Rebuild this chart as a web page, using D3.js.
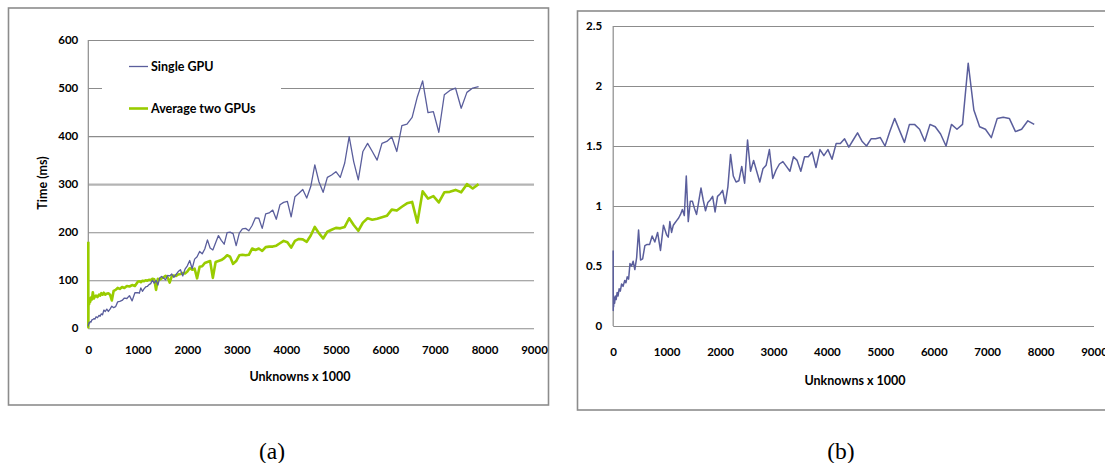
<!DOCTYPE html>
<html>
<head>
<meta charset="utf-8">
<script src="https://cdn.jsdelivr.net/npm/d3@7"></script>
<style>
body { margin: 0; background: #fff; }
svg { display: block; font-family: Lato, "Open Sans", sans-serif; }
</style>
</head>
<body>
<div id="chart"></div>
<script>
// unknowns x 1000 (n^3 grids, denser points thinned out below 1000)
const unknowns = [0, 1, 3, 8, 16, 27, 39, 55, 74, 91, 111, 133, 157, 185, 216, 238, 262, 288, 314, 343, 373, 405, 439, 475, 512, 551, 593, 636, 682, 729, 779, 831, 885, 941,
  1000, 1030, 1061, 1093, 1125, 1158, 1191, 1225, 1260, 1295, 1331, 1368, 1405, 1443, 1482, 1521, 1561, 1602, 1643, 1685, 1728, 1772, 1816, 1861, 1907, 1953,
  2000, 2048, 2097, 2147, 2197, 2248, 2300, 2352, 2406, 2460, 2515, 2571, 2628, 2686, 2744, 2803, 2863, 2924, 2986, 3049, 3112, 3177, 3242, 3308, 3375, 3443, 3512, 3582, 3652, 3724, 3796,
  3870, 3944, 4020, 4096, 4173, 4252, 4331, 4411, 4492, 4574, 4657, 4742, 4827, 4913, 5000, 5088, 5178, 5268, 5359, 5452, 5545, 5640, 5735, 5832, 5930, 6028, 6128, 6230, 6332, 6435, 6539, 6645, 6751, 6859, 6968, 7078, 7189, 7301, 7415, 7530, 7645, 7762, 7881];

// time (ms)
const singleGpu = [4, 5, 8, 8, 12, 11, 14, 13, 18, 18, 20, 19, 24, 22, 27, 25, 30, 28, 38, 35, 40, 35, 40, 46, 43, 45, 55, 56, 58, 63, 62, 68, 57, 74,
  74, 73, 84, 77, 82, 86, 87, 91, 93, 100, 94, 100, 90, 105, 108, 104, 101, 110, 109, 113, 106, 112, 118, 122, 109, 123,
  130, 141, 124, 144, 149, 160, 155, 165, 184, 167, 163, 178, 193, 183, 175, 199, 200, 197, 172, 198, 207, 208, 203, 214, 230, 229, 208, 238, 240, 246, 227,
  257, 262, 264, 232, 274, 281, 289, 271, 295, 340, 305, 283, 314, 319, 326, 314, 344, 399, 347, 309, 368, 385, 368, 350, 385, 389, 398, 368, 422, 425, 439, 482, 515, 449, 451, 408, 486, 495, 500, 458, 491, 500, 503];

const twoGpuAvg = [180, 2, 45, 58, 50, 62, 55, 64, 60, 75, 62, 66, 68, 65, 70, 68, 73, 70, 74, 70, 72, 73, 70, 58, 78, 80, 84, 82, 86, 84, 88, 87, 90, 88,
  97, 98, 96, 99, 98, 100, 99, 101, 100, 103, 102, 80, 103, 101, 104, 106, 109, 106, 95, 108, 110, 109, 112, 113, 115, 114,
  118, 125, 122, 124, 104, 128, 129, 136, 138, 140, 105, 138, 140, 142, 146, 152, 149, 134, 140, 152, 153, 152, 153, 166, 163, 166, 161, 169, 170, 170, 172,
  177, 182, 179, 168, 182, 186, 185, 180, 193, 211, 198, 187, 201, 205, 209, 208, 211, 229, 215, 203, 220, 229, 226, 228, 231, 234, 247, 245, 253, 260, 263, 220, 285, 270, 275, 262, 283, 284, 288, 283, 300, 291, 300];

// panel (b)
const speedup = [0.63, 0.13, 0.22, 0.16, 0.24, 0.19, 0.25, 0.22, 0.28, 0.25, 0.31, 0.29, 0.35, 0.33, 0.38, 0.36, 0.41, 0.39, 0.52, 0.50, 0.54, 0.47, 0.57, 0.80, 0.55, 0.56, 0.67, 0.68, 0.68, 0.75, 0.70, 0.78, 0.63, 0.84,
  0.76, 0.74, 0.87, 0.78, 0.84, 0.86, 0.88, 0.90, 0.93, 0.97, 0.92, 1.25, 0.87, 1.04, 1.04, 0.98, 0.93, 1.04, 1.15, 1.05, 0.96, 1.03, 1.05, 1.08, 0.95, 1.08,
  1.10, 1.13, 1.02, 1.16, 1.43, 1.25, 1.20, 1.21, 1.33, 1.19, 1.55, 1.29, 1.38, 1.29, 1.20, 1.31, 1.34, 1.47, 1.23, 1.30, 1.35, 1.37, 1.33, 1.29, 1.41, 1.38, 1.29, 1.41, 1.41, 1.45, 1.32,
  1.47, 1.42, 1.47, 1.39, 1.52, 1.52, 1.56, 1.49, 1.55, 1.61, 1.54, 1.50, 1.56, 1.56, 1.57, 1.50, 1.62, 1.73, 1.63, 1.53, 1.68, 1.68, 1.64, 1.54, 1.68, 1.66, 1.60, 1.50, 1.68, 1.64, 1.68, 2.19, 1.80, 1.66, 1.64, 1.57, 1.73, 1.74, 1.73, 1.62, 1.64, 1.71, 1.68];

const xTicks = [0, 1000, 2000, 3000, 4000, 5000, 6000, 7000, 8000, 9000];
const timeTicks = [0, 100, 200, 300, 400, 500, 600];
const speedupTicks = [0, 0.5, 1, 1.5, 2, 2.5];
const seriesNames = ["Single GPU", "Average two GPUs"];

const width = 1105;
const height = 463;
const gridColour = "#8c8c8c";
const blue = "#5a5e9c";
const green = "#99cc00";

const svg = d3.select("#chart").append("svg")
  .attr("width", width)
  .attr("height", height)
  .attr("viewBox", [0, 0, width, height]);

function panel(cfg) {
  const x = d3.scaleLinear().domain([0, 9000]).range([cfg.left, cfg.right]);
  const y = d3.scaleLinear().domain([0, d3.max(cfg.yTicks)]).range([cfg.bottom, cfg.top]);

  // outer frame
  svg.append("rect")
    .attr("x", cfg.frame[0]).attr("y", cfg.frame[1])
    .attr("width", cfg.frame[2] - cfg.frame[0]).attr("height", cfg.frame[3] - cfg.frame[1])
    .attr("fill", "none").attr("stroke", gridColour).attr("stroke-width", 1.6);

  // gridlines + y labels
  svg.append("g")
    .attr("transform", `translate(${cfg.left},0)`)
    .call(d3.axisLeft(y).tickValues(cfg.yTicks).tickSize(-(cfg.right - cfg.left)).tickPadding(cfg.yPad).tickFormat(d3.format("~g")))
    .call(g => g.select(".domain").remove())
    .call(g => g.selectAll(".tick line").attr("stroke", gridColour).attr("stroke-width", 1.1))
    .call(g => g.selectAll(".tick text").attr("fill", "#000").attr("font-size", 11.5).attr("font-weight", 700).attr("font-family", "Lato, sans-serif"));

  // y axis line
  svg.append("line")
    .attr("x1", cfg.left).attr("x2", cfg.left)
    .attr("y1", cfg.top).attr("y2", cfg.bottom)
    .attr("stroke", gridColour).attr("stroke-width", 1.2);

  // x labels
  svg.append("g")
    .attr("transform", `translate(0,${cfg.bottom})`)
    .call(d3.axisBottom(x).tickValues(xTicks).tickSize(0).tickPadding(cfg.xPad).tickFormat(d3.format("d")))
    .call(g => g.select(".domain").remove())
    .call(g => g.selectAll(".tick text").attr("fill", "#000").attr("font-size", 11.5).attr("font-weight", 700).attr("font-family", "Lato, sans-serif"));

  svg.append("text")
    .attr("x", cfg.titleX).attr("y", cfg.titleY)
    .attr("text-anchor", "middle")
    .attr("font-size", 12.5).attr("font-weight", 700)
    .text("Unknowns x 1000");

  svg.append("text")
    .attr("x", cfg.capX).attr("y", 459)
    .attr("text-anchor", "middle")
    .attr("font-family", "'Liberation Serif', 'DejaVu Serif', serif")
    .attr("font-size", 23.5)
    .text(cfg.caption);

  return {x, y};
}

// (a)
const a = panel({
  frame: [8.5, 8, 548.5, 405],
  left: 88.3, right: 534, top: 40, bottom: 328.3,
  yTicks: timeTicks, yPad: 10, xPad: 18,
  titleX: 300, titleY: 380.5, capX: 272, caption: "(a)"
});

// the 300 line is drawn lighter and heavier in the source
svg.selectAll("g .tick").filter(d => d === 300).select("line")
  .attr("stroke", "#b4b4b4").attr("stroke-width", 2.4);

svg.append("text")
  .attr("transform", "translate(47,183) rotate(-90)")
  .attr("text-anchor", "middle")
  .attr("font-size", 12.5).attr("font-weight", 700)
  .text("Time (ms)");

const lineA = (vals) => d3.line()
  .x((d, i) => a.x(unknowns[i]))
  .y(d => a.y(d))(vals);

svg.append("path").attr("d", lineA(twoGpuAvg))
  .attr("fill", "none").attr("stroke", green).attr("stroke-width", 2.6).attr("stroke-linejoin", "round");
svg.append("path").attr("d", lineA(singleGpu))
  .attr("fill", "none").attr("stroke", blue).attr("stroke-width", 1.3).attr("stroke-linejoin", "round");

// legend
const legend = svg.append("g");
legend.append("rect")
  .attr("x", 102).attr("y", 50).attr("width", 179).attr("height", 74)
  .attr("fill", "#fff");
const legendItems = legend.selectAll("g")
  .data(seriesNames)
  .join("g")
  .attr("transform", (d, i) => `translate(129,${66.5 + i * 42})`);
legendItems.append("line")
  .attr("x1", 0).attr("x2", 19)
  .attr("stroke", (d, i) => i === 0 ? blue : green)
  .attr("stroke-width", (d, i) => i === 0 ? 1.3 : 2.6);
legendItems.append("text")
  .attr("x", 22).attr("dy", "0.36em")
  .attr("font-size", 12.5).attr("font-weight", 700)
  .text(d => d);

// (b)
const b = panel({
  frame: [577.5, 11, 1125, 410],
  left: 613.2, right: 1094, top: 26, bottom: 326,
  yTicks: speedupTicks, yPad: 11, xPad: 22,
  titleX: 855, titleY: 385, capX: 841, caption: "(b)"
});

svg.append("path")
  .attr("d", d3.line().x((d, i) => b.x(unknowns[i])).y(d => b.y(d))(speedup))
  .attr("fill", "none").attr("stroke", blue).attr("stroke-width", 1.5).attr("stroke-linejoin", "round");
</script>
</body>
</html>
